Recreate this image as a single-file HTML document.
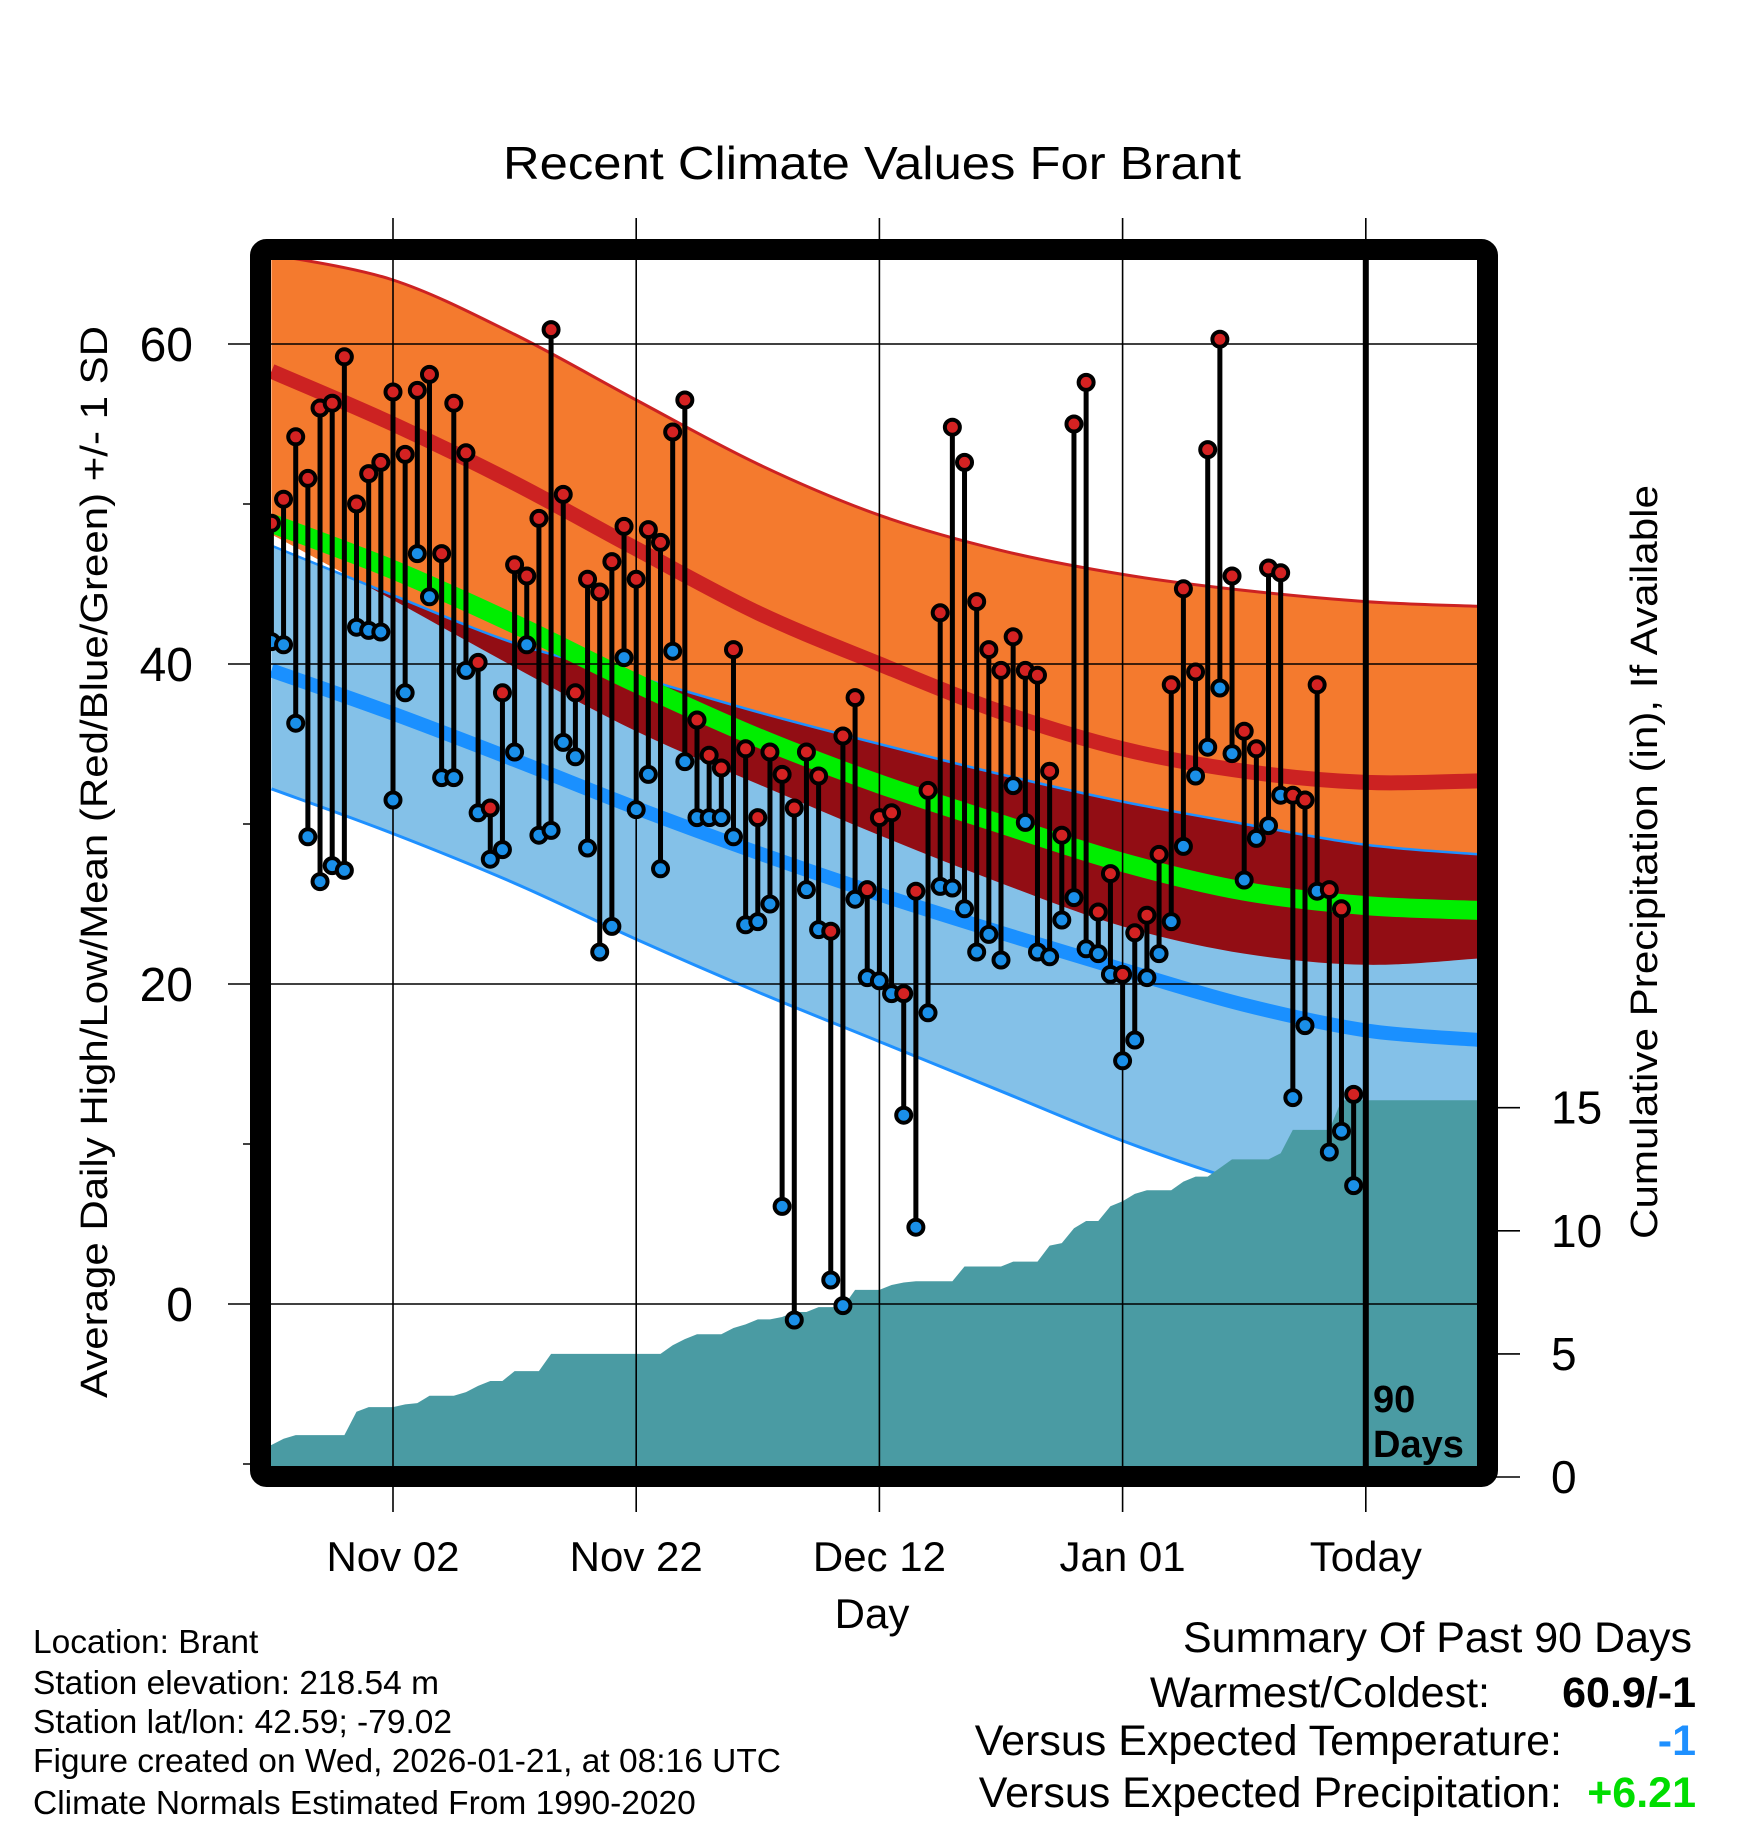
<!DOCTYPE html>
<html><head><meta charset="utf-8"><style>
html,body{margin:0;padding:0;background:#fff;}
svg{display:block;font-family:"Liberation Sans",Arial,sans-serif;}
</style></head><body>
<svg id="chart" xmlns="http://www.w3.org/2000/svg" width="1748" height="1828" viewBox="0 0 1748 1828">
<defs>
<clipPath id="plotClip"><rect x="270" y="260" width="1208" height="1207"/></clipPath>
<clipPath id="hiBandClip"><path id="hiBandClipPath" d=""/></clipPath>
</defs>
<g id="plot" clip-path="url(#plotClip)"></g>
<g id="over"></g>
<text x="872" y="179" font-size="46" text-anchor="middle" textLength="738" lengthAdjust="spacingAndGlyphs">Recent Climate Values For Brant</text>
<text transform="translate(107,862) rotate(-90)" font-size="38" text-anchor="middle" textLength="1072" lengthAdjust="spacingAndGlyphs">Average Daily High/Low/Mean (Red/Blue/Green) +/- 1 SD</text>
<text transform="translate(1657,862) rotate(-90)" font-size="38" text-anchor="middle" textLength="754" lengthAdjust="spacingAndGlyphs">Cumulative Precipitation (in), If Available</text>
<text x="872" y="1628" font-size="42" text-anchor="middle">Day</text>
<g font-size="33.5">
<text x="33" y="1653">Location: Brant</text>
<text x="33" y="1694">Station elevation: 218.54 m</text>
<text x="33" y="1733">Station lat/lon: 42.59; -79.02</text>
<text x="33" y="1772">Figure created on Wed, 2026-01-21, at 08:16 UTC</text>
<text x="33" y="1814">Climate Normals Estimated From 1990-2020</text>
</g>
<g font-size="43">
<text x="1692" y="1652" text-anchor="end">Summary Of Past 90 Days</text>
<text x="1490" y="1707" text-anchor="end">Warmest/Coldest:</text>
<text x="1696" y="1707" text-anchor="end" font-weight="bold">60.9/-1</text>
<text x="1562" y="1755" text-anchor="end">Versus Expected Temperature:</text>
<text x="1696" y="1755" text-anchor="end" font-weight="bold" fill="#1e90ff">-1</text>
<text x="1562" y="1807" text-anchor="end">Versus Expected Precipitation:</text>
<text x="1696" y="1807" text-anchor="end" font-weight="bold" fill="#00dd00">+6.21</text>
</g>
</svg>
<script>
// ---- data ----
const highs = [48.8,50.3,54.2,51.6,56.0,56.3,59.2,50.0,51.9,52.6,57.0,53.1,57.1,58.1,46.9,56.3,53.2,40.1,31.0,38.2,46.2,45.5,49.1,60.9,50.6,38.2,45.3,44.5,46.4,48.6,45.3,48.4,47.6,54.5,56.5,36.5,34.3,33.5,40.9,34.7,30.4,34.5,33.1,31.0,34.5,33.0,23.3,35.5,37.9,25.9,30.4,30.7,19.4,25.8,32.1,43.2,54.8,52.6,43.9,40.9,39.6,41.7,39.6,39.3,33.3,29.3,55.0,57.6,24.5,26.9,20.6,23.2,24.3,28.1,38.7,44.7,39.5,53.4,60.3,45.5,35.8,34.7,46.0,45.7,31.8,31.5,38.7,25.9,24.7,13.1];
const lows = [41.4,41.2,36.3,29.2,26.4,27.4,27.1,42.3,42.1,42.0,31.5,38.2,46.9,44.2,32.9,32.9,39.6,30.7,27.8,28.4,34.5,41.2,29.3,29.6,35.1,34.2,28.5,22.0,23.6,40.4,30.9,33.1,27.2,40.8,33.9,30.4,30.4,30.4,29.2,23.7,23.9,25.0,6.1,-1.0,25.9,23.4,1.5,-0.1,25.3,20.4,20.2,19.4,11.8,4.8,18.2,26.1,26.0,24.7,22.0,23.1,21.5,32.4,30.1,22.0,21.7,24.0,25.4,22.2,21.9,20.6,15.2,16.5,20.4,21.9,23.9,28.6,33.0,34.8,38.5,34.4,26.5,29.1,29.9,31.8,12.9,17.4,25.8,9.5,10.8,7.4];
const precip = [1.3,1.55,1.7,1.7,1.7,1.7,1.7,2.65,2.84,2.84,2.84,2.95,3.0,3.3,3.3,3.3,3.45,3.7,3.9,3.9,4.3,4.3,4.3,5.0,5.0,5.0,5.0,5.0,5.0,5.0,5.0,5.0,5.0,5.35,5.6,5.8,5.8,5.8,6.05,6.2,6.4,6.4,6.5,6.7,6.7,6.9,6.9,6.9,7.6,7.6,7.6,7.8,7.9,7.95,7.95,7.95,7.95,8.55,8.55,8.55,8.55,8.75,8.75,8.75,9.4,9.5,10.1,10.4,10.4,11.0,11.2,11.5,11.65,11.65,11.65,12.0,12.2,12.2,12.55,12.9,12.9,12.9,12.9,13.15,14.1,14.1,14.1,14.1,15.3,15.3];
const normDays = [0,10,20,30,40,50,60,70,80,90,99.4];
const highPlusSD = [65.6,64.0,60.6,56.5,52.5,49.3,47.1,45.6,44.6,43.9,43.6];
const highMean = [58.3,55.0,51.3,47.2,43.2,40.0,37.0,34.7,33.3,32.6,32.7];
const highMinusSD = [48.1,44.0,39.8,35.8,32.5,29.3,26.3,23.6,21.9,21.2,21.6];
const meanTemp = [48.8,45.9,42.5,38.8,35.4,32.5,30.0,27.6,25.8,24.9,24.6];
const lowPlusSD = [47.4,44.3,41.3,39.2,37.0,35.0,33.1,31.4,30.0,28.7,28.1];
const lowMean = [39.6,36.9,34.0,31.0,28.2,25.6,23.2,20.9,18.7,17.1,16.5];
const lowMinusSD = [32.2,29.4,26.3,22.8,19.5,16.4,13.3,10.2,7.6,5.6,4.6];
const tempTicks = [60,40,20,0];
const tempMinorTicks = [50,30,10,-10];
const dateTicks = [10,30,50,70,90];
const dateLabels = ["Nov 02","Nov 22","Dec 12","Jan 01","Today"];
const precipTicks = [0,5,10,15];

// ---- axes ----
const X = d => 271.4 + d*12.16;
const Y = t => 344 + (60-t)*16;
const P = v => 1477 - v*24.62;
const NS = "http://www.w3.org/2000/svg";
const plot = document.getElementById('plot');
const over = document.getElementById('over');
function mk(tag, parent, attrs){const e=document.createElementNS(NS,tag);for(const k in attrs)e.setAttribute(k,attrs[k]);parent.appendChild(e);return e;}

function pts(arr){return normDays.map((d,i)=>[X(d),Y(arr[i])]);}
function smooth(p){
  let s = "M"+p[0][0].toFixed(1)+","+p[0][1].toFixed(1);
  for(let i=0;i<p.length-1;i++){
    const p0=p[Math.max(0,i-1)],p1=p[i],p2=p[i+1],p3=p[Math.min(p.length-1,i+2)];
    const c1=[p1[0]+(p2[0]-p0[0])/6,p1[1]+(p2[1]-p0[1])/6];
    const c2=[p2[0]-(p3[0]-p1[0])/6,p2[1]-(p3[1]-p1[1])/6];
    s+="C"+c1[0].toFixed(1)+","+c1[1].toFixed(1)+" "+c2[0].toFixed(1)+","+c2[1].toFixed(1)+" "+p2[0].toFixed(1)+","+p2[1].toFixed(1);
  }
  return s;
}
function band(top,bot){
  const a=pts(top), b=pts(bot).reverse();
  return smooth(a)+smooth(b).replace(/^M/,"L")+"Z";
}
const hiBand = band(highPlusSD, highMinusSD);
const loBand = band(lowPlusSD, lowMinusSD);
document.getElementById('hiBandClipPath').setAttribute('d', hiBand);

let e;
e = mk('path', plot, {d:hiBand, fill:'#f47a2e'});


e = mk('path', plot, {d:loBand, fill:'#84c1e8'});


e = mk('path', plot, {d:loBand, fill:'#920d14', 'clip-path':'url(#hiBandClip)'});


e = mk('path', plot, {d:smooth(pts(highPlusSD)), fill:'none', stroke:'#cc2222', 'stroke-width':3});


e = mk('path', plot, {d:smooth(pts(lowPlusSD)), fill:'none', stroke:'#1e90ff', 'stroke-width':2.5});


e = mk('path', plot, {d:smooth(pts(lowMinusSD)), fill:'none', stroke:'#1e90ff', 'stroke-width':3});


e = mk('path', plot, {d:smooth(pts(highMean)), fill:'none', stroke:'#cc2222', 'stroke-width':15});


e = mk('path', plot, {d:smooth(pts(lowMean)), fill:'none', stroke:'#1a90ff', 'stroke-width':14});


e = mk('path', plot, {d:smooth(pts(meanTemp)), fill:'none', stroke:'#00ee00', 'stroke-width':19});



// precip area (linear between days)
let pd = "M270,1467 L270,"+P(precip[0]).toFixed(1);
precip.forEach((v,i)=>{
  pd += " L"+X(i).toFixed(1)+","+P(v).toFixed(1);
});
pd += " L1478,"+P(precip[precip.length-1]).toFixed(1)+" L1478,1467Z";
e = mk('path', plot, {d:pd, fill:'#4a9ba3'});



// grid
tempTicks.forEach(t=>{
  e = mk('line', over, {x1:228, x2:1478, y1:Y(t), y2:Y(t), stroke:'#000', 'stroke-width':1.6});
  
  
  e = mk('text', over, {x:193, y:Y(t)+17, 'font-size':48, 'text-anchor':'end'});
  e.textContent = String(t);
  
  
});
tempMinorTicks.forEach(t=>{
  e = mk('line', over, {x1:243, x2:262, y1:Y(t), y2:Y(t), stroke:'#000', 'stroke-width':1.6});
  
  
});
dateTicks.forEach((d,i)=>{
  const x = X(d);
  e = mk('line', over, {x1:x, x2:x, y1:218, y2:1512, stroke:'#000', 'stroke-width':1.6});
  
  
  e = mk('text', over, {x:x, y:1571, 'font-size':42, 'text-anchor':'middle'});
  e.textContent = dateLabels[i];
  
  
});
precipTicks.forEach(v=>{
  e = mk('line', over, {x1:1490, x2:1520, y1:P(v), y2:P(v), stroke:'#000', 'stroke-width':1.6});
  
  
  e = mk('text', over, {x:1551, y:P(v)+16, 'font-size':46});
  e.textContent = String(v);
  
  
});

// today line
e = mk('line', over, {x1:X(90), x2:X(90), y1:260, y2:1467, stroke:'#000', 'stroke-width':6});


e = mk('text', over, {x:1373, y:1412, 'font-size':38, 'font-weight':'bold'});
e.textContent = "90";


e = mk('text', over, {x:1373, y:1457, 'font-size':38, 'font-weight':'bold'});
e.textContent = "Days";



// stems and markers
highs.forEach((h,i)=>{
  e = mk('line', over, {x1:X(i), x2:X(i), y1:Y(h), y2:Y(lows[i]), stroke:'#000', 'stroke-width':5});
  
  
});
highs.forEach((h,i)=>{
  e = mk('circle', over, {cx:X(i), cy:Y(lows[i]), r:7.5, fill:'#1a8fe8', stroke:'#000', 'stroke-width':4});
  
  
  e = mk('circle', over, {cx:X(i), cy:Y(h), r:7.5, fill:'#d42222', stroke:'#000', 'stroke-width':4});
  
  
});

// frame
e = mk('rect', over, {x:260.5, y:249.5, width:1227, height:1227, rx:6, fill:'none', stroke:'#000', 'stroke-width':21});


</script>
</body></html>
